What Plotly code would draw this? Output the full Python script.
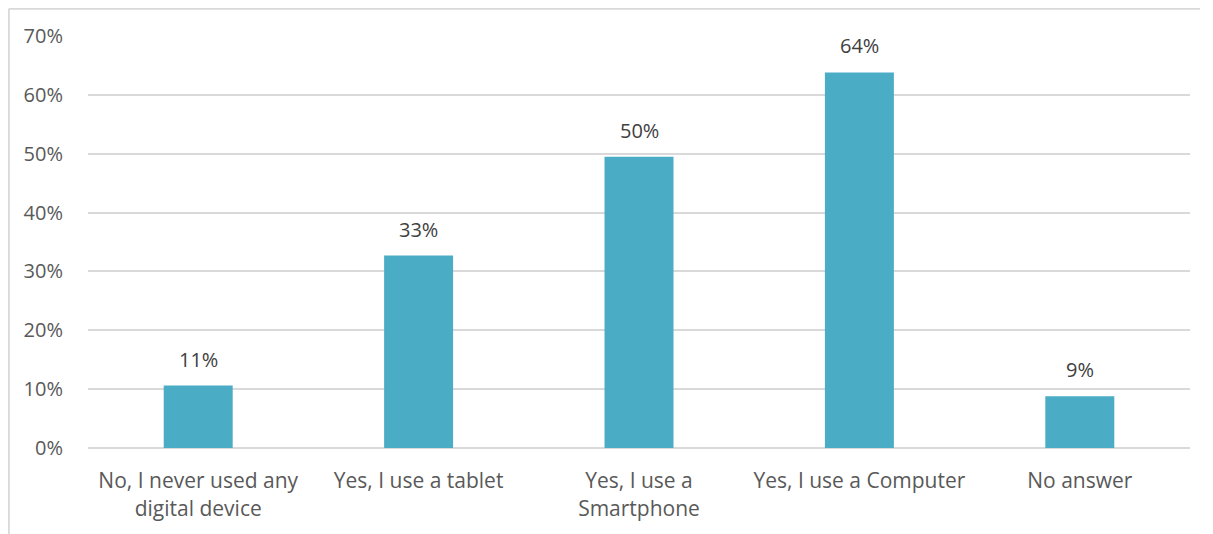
import plotly.graph_objects as go

categories = ["No, I never used any<br>digital device", "Yes, I use a tablet",
              "Yes, I use a<br>Smartphone", "Yes, I use a Computer", "No answer"]
values = [0.106, 0.327, 0.495, 0.638, 0.088]
labels = ["11%", "33%", "50%", "64%", "9%"]
y_ticks = [0, 0.1, 0.2, 0.3, 0.4, 0.5, 0.6, 0.7]
y_tick_labels = ["0%", "10%", "20%", "30%", "40%", "50%", "60%", "70%"]

FONT = "Open Sans"
W, H = 1205, 526
ML, MR, MT, MB = 80, 23, 28, 86
PW, PH = W - ML - MR, H - MT - MB

fig = go.Figure(go.Bar(
    x=categories, y=values,
    marker=dict(color="#4BACC6", line=dict(width=0)),
    hoverinfo="x+y",
))
for c, v, t in zip(categories, values, labels):
    fig.add_annotation(x=c, y=v, text=t, showarrow=False, yanchor="bottom",
                       yshift=11, font=dict(family=FONT, size=20, color="#404040"))

border = "#D9D9D9"
fig.update_layout(
    width=W, height=H,
    margin=dict(l=ML, r=MR, t=MT, b=MB),
    paper_bgcolor="white", plot_bgcolor="white",
    bargap=0.687, showlegend=False,
    font=dict(family=FONT, size=20, color="#595959"),
    shapes=[
        dict(type="line", xref="paper", yref="paper",
             x0=(0.8 - ML) / PW, x1=(0.8 - ML) / PW, y0=-MB / PH - 0.05, y1=1 + (MT - 0.8) / PH,
             line=dict(color=border, width=2)),
        dict(type="line", xref="paper", yref="paper",
             x0=(0.8 - ML) / PW, x1=(1192 - ML) / PW, y0=1 + (MT - 0.8) / PH, y1=1 + (MT - 0.8) / PH,
             line=dict(color=border, width=2)),
    ],
)
fig.update_xaxes(showgrid=False, showline=False, ticks="outside", ticklen=14,
                 tickcolor="rgba(0,0,0,0)", tickfont=dict(size=21, color="#595959"))
fig.update_yaxes(range=[0, 0.7], tickvals=y_ticks, ticktext=y_tick_labels,
                 showgrid=True, gridcolor="#D9D9D9", gridwidth=1.5, zeroline=True,
                 zerolinecolor="#D9D9D9", zerolinewidth=1.5,
                 ticks="outside", ticklen=20, tickcolor="rgba(0,0,0,0)",
                 tickfont=dict(size=20, color="#595959"))
fig.write_html("out.html")
